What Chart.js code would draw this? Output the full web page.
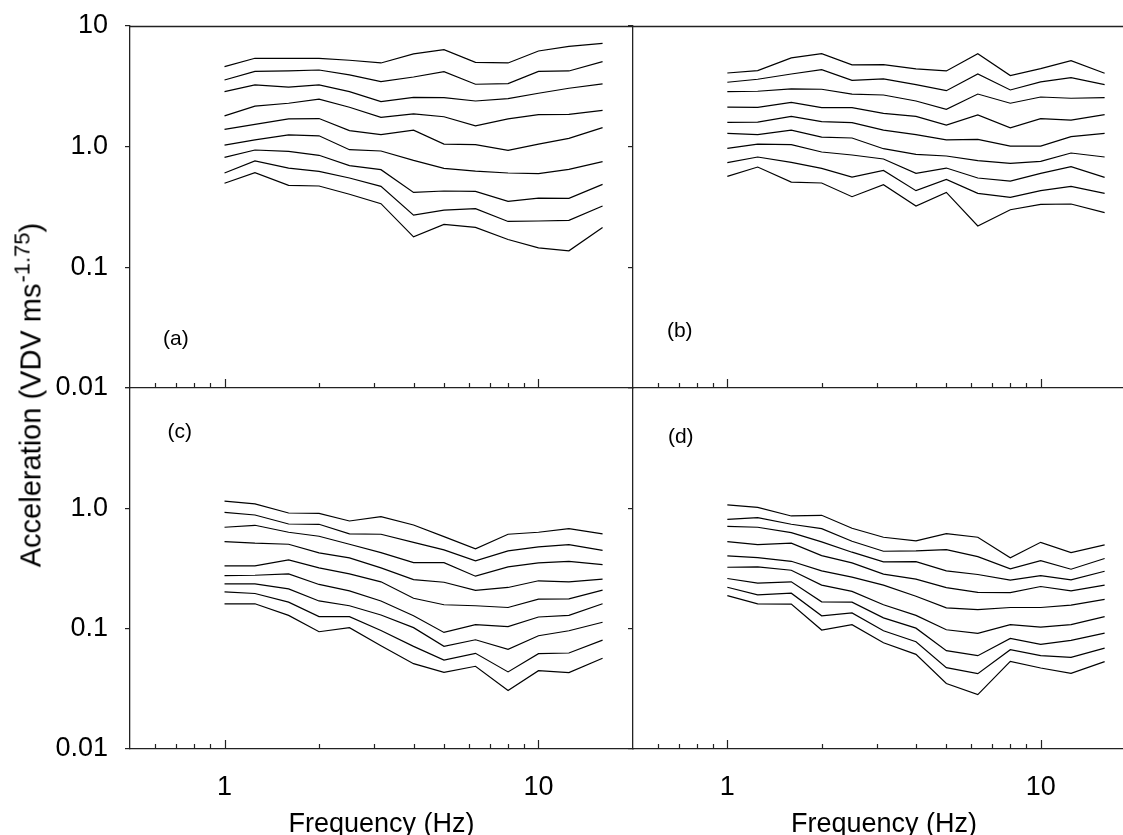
<!DOCTYPE html>
<html>
<head>
<meta charset="utf-8">
<title>VDV acceleration contours</title>
<script src="https://cdn.jsdelivr.net/npm/chart.js@4.4.1/dist/chart.umd.min.js"></script>
<style>
  html, body { margin: 0; padding: 0; background: #fff; }
  #stage { position: relative; width: 1123px; height: 835px; overflow: hidden; background: #fff; }
  #stage canvas { position: absolute; left: 0; top: 0; }
  #yTitle {
    position: absolute; left: 31px; top: 395px;
    transform: translate(-50%, -50%) rotate(-90deg);
    white-space: nowrap; line-height: 1; color: #000;
    font-family: "Liberation Sans", Arial, sans-serif; font-size: 29px;
  }
  #yTitle sup { font-size: 22px; vertical-align: 11px; line-height: 0; margin-left: 1px; }
</style>
</head>
<body>
<div id="stage">
  <canvas id="panelA" width="1140" height="860"></canvas>
  <canvas id="panelB" width="1140" height="860"></canvas>
  <canvas id="panelC" width="1140" height="860"></canvas>
  <canvas id="panelD" width="1140" height="860"></canvas>
  <div id="yTitle">Acceleration (VDV ms<sup>-1.75</sup>)</div>
</div>

<script>
// one-third octave band centres (Hz)
const freqHz = [1, 1.25, 1.6, 2, 2.5, 3.15, 4, 5, 6.3, 8, 10, 12.5, 16];

// tick values
const yTickVals = [0.01, 0.1, 1, 10];
const yTickText = ["0.01", "0.1", "1.0", "10"];
const xLabelVals = [1, 10];
const xMinorVals = [0.6, 0.7, 0.8, 0.9, 2, 3, 4, 5, 6, 7, 8, 9];
const xMajorVals = [1, 10];

// panel (a) - nine contours, top to bottom
const panelA = [
  [4.61, 5.40, 5.40, 5.40, 5.20, 4.94, 5.87, 6.37, 5.00, 4.94, 6.21, 6.79, 7.19],
  [3.57, 4.21, 4.24, 4.32, 3.93, 3.46, 3.78, 4.19, 3.29, 3.33, 4.21, 4.24, 5.07],
  [2.86, 3.25, 3.12, 3.25, 2.86, 2.36, 2.56, 2.55, 2.39, 2.50, 2.77, 3.05, 3.31],
  [1.80, 2.17, 2.29, 2.48, 2.12, 1.75, 1.87, 1.77, 1.49, 1.70, 1.84, 1.85, 2.00],
  [1.39, 1.53, 1.70, 1.71, 1.36, 1.26, 1.37, 1.05, 1.04, 0.932, 1.05, 1.17, 1.44],
  [1.03, 1.14, 1.25, 1.23, 0.944, 0.921, 0.770, 0.661, 0.628, 0.605, 0.597, 0.649, 0.751],
  [0.816, 0.938, 0.915, 0.848, 0.696, 0.645, 0.418, 0.429, 0.426, 0.352, 0.375, 0.373, 0.487],
  [0.605, 0.761, 0.665, 0.625, 0.550, 0.469, 0.271, 0.298, 0.306, 0.240, 0.242, 0.245, 0.322],
  [0.497, 0.609, 0.478, 0.472, 0.403, 0.337, 0.179, 0.227, 0.214, 0.170, 0.145, 0.137, 0.214]
];

// panel (b)
const panelB = [
  [4.08, 4.27, 5.44, 5.90, 4.76, 4.79, 4.41, 4.24, 5.90, 3.88, 4.43, 5.17, 4.06],
  [3.42, 3.62, 4.00, 4.35, 3.55, 3.64, 3.27, 2.91, 4.00, 2.95, 3.44, 3.73, 3.27],
  [2.86, 2.88, 3.01, 2.99, 2.73, 2.68, 2.39, 2.04, 2.73, 2.29, 2.58, 2.52, 2.55],
  [2.13, 2.12, 2.33, 2.11, 2.11, 1.89, 1.78, 1.51, 1.83, 1.43, 1.71, 1.66, 1.84],
  [1.59, 1.60, 1.78, 1.61, 1.58, 1.37, 1.26, 1.14, 1.15, 1.01, 1.01, 1.21, 1.29],
  [1.29, 1.26, 1.37, 1.20, 1.18, 0.962, 0.864, 0.837, 0.765, 0.727, 0.756, 0.886, 0.821],
  [0.969, 1.05, 1.04, 0.903, 0.853, 0.790, 0.601, 0.665, 0.550, 0.519, 0.601, 0.683, 0.557],
  [0.737, 0.821, 0.741, 0.661, 0.560, 0.636, 0.432, 0.536, 0.410, 0.380, 0.432, 0.469, 0.410],
  [0.568, 0.678, 0.509, 0.500, 0.385, 0.484, 0.322, 0.418, 0.220, 0.300, 0.332, 0.335, 0.284]
];

// panel (c)
const panelC = [
  [1.15, 1.09, 0.915, 0.909, 0.785, 0.853, 0.727, 0.582, 0.460, 0.609, 0.633, 0.678, 0.613],
  [0.927, 0.880, 0.741, 0.737, 0.613, 0.609, 0.522, 0.451, 0.366, 0.443, 0.478, 0.500, 0.448],
  [0.696, 0.723, 0.633, 0.586, 0.503, 0.429, 0.354, 0.354, 0.273, 0.326, 0.352, 0.363, 0.341],
  [0.529, 0.513, 0.503, 0.426, 0.388, 0.320, 0.256, 0.243, 0.208, 0.220, 0.250, 0.245, 0.258],
  [0.332, 0.332, 0.373, 0.320, 0.285, 0.245, 0.179, 0.158, 0.155, 0.150, 0.176, 0.177, 0.209],
  [0.276, 0.278, 0.285, 0.233, 0.206, 0.170, 0.128, 0.0931, 0.108, 0.104, 0.125, 0.129, 0.161],
  [0.236, 0.236, 0.214, 0.170, 0.155, 0.130, 0.102, 0.0713, 0.0809, 0.0673, 0.0874, 0.0961, 0.113],
  [0.202, 0.196, 0.166, 0.126, 0.126, 0.0967, 0.0713, 0.0549, 0.0624, 0.0437, 0.0620, 0.0628, 0.0804],
  [0.161, 0.161, 0.129, 0.0943, 0.102, 0.0722, 0.0512, 0.0434, 0.0487, 0.0306, 0.0448, 0.0431, 0.0567]
];

// panel (d)
const panelD = [
  [1.07, 1.02, 0.864, 0.875, 0.683, 0.575, 0.536, 0.617, 0.575, 0.388, 0.522, 0.429, 0.497],
  [0.811, 0.837, 0.737, 0.678, 0.533, 0.440, 0.443, 0.454, 0.397, 0.314, 0.368, 0.312, 0.383],
  [0.709, 0.696, 0.628, 0.526, 0.432, 0.359, 0.361, 0.302, 0.282, 0.253, 0.276, 0.254, 0.300],
  [0.529, 0.500, 0.513, 0.405, 0.352, 0.284, 0.258, 0.219, 0.200, 0.199, 0.224, 0.206, 0.230],
  [0.403, 0.390, 0.363, 0.302, 0.268, 0.230, 0.186, 0.149, 0.144, 0.150, 0.150, 0.157, 0.175],
  [0.324, 0.326, 0.306, 0.230, 0.204, 0.158, 0.129, 0.0980, 0.0913, 0.108, 0.103, 0.108, 0.126],
  [0.261, 0.239, 0.245, 0.167, 0.166, 0.123, 0.101, 0.0656, 0.0596, 0.0830, 0.0741, 0.0799, 0.0919],
  [0.221, 0.191, 0.197, 0.128, 0.135, 0.0961, 0.0779, 0.0474, 0.0423, 0.0669, 0.0596, 0.0578, 0.0690],
  [0.188, 0.161, 0.160, 0.0974, 0.108, 0.0764, 0.0612, 0.0350, 0.0283, 0.0535, 0.0471, 0.0426, 0.0532]
];

const AXIS_COLOR = "#222";
const FONT = "'Liberation Sans', Arial, sans-serif";

Chart.defaults.font.family = FONT;
Chart.defaults.color = "#000";

// Draws the inward x ticks, the top frame edge and the panel letter
const panelDecor = {
  id: "panelDecor",
  afterDraw(chart, args, opts) {
    const { ctx, chartArea, scales } = chart;
    const x = scales.x;
    const y = scales.y;
    ctx.save();
    ctx.strokeStyle = AXIS_COLOR;
    ctx.lineWidth = 1.2;
    ctx.beginPath();
    const base = chartArea.bottom;
    xMinorVals.forEach((v) => {
      const px = Math.round(x.getPixelForValue(v)) + 0.5;
      ctx.moveTo(px, base);
      ctx.lineTo(px, base - 5);
    });
    xMajorVals.forEach((v) => {
      const px = Math.round(x.getPixelForValue(v)) + 0.5;
      ctx.moveTo(px, base);
      ctx.lineTo(px, base - 9);
    });
    ctx.stroke();

    if (opts.topEdge) {
      ctx.lineWidth = 1.3;
      ctx.beginPath();
      const ty = Math.round(chartArea.top) + 0.5;
      ctx.moveTo(chartArea.left, ty);
      ctx.lineTo(chartArea.right, ty);
      ctx.stroke();
    }

    if (opts.tag) {
      ctx.fillStyle = "#000";
      ctx.font = "21px " + FONT;
      ctx.textAlign = "center";
      ctx.textBaseline = "middle";
      ctx.fillText(opts.tag, x.getPixelForValue(opts.tagAt[0]), y.getPixelForValue(opts.tagAt[1]));
    }
    ctx.restore();
  },
};
Chart.register(panelDecor);

// keep the layout from reserving room for overhanging tick labels
function noOverhang(s) {
  s.paddingTop = 0;
  s.paddingBottom = 0;
  s.paddingLeft = 0;
  s.paddingRight = 0;
}

function buildPanel(canvasId, rows, cfg) {
  const datasets = rows.map((row) => ({
    data: row.map((v, i) => ({ x: freqHz[i], y: v })),
    borderColor: "#000",
    borderWidth: 1.2,
    pointRadius: 0,
    tension: 0,
    fill: false,
  }));

  return new Chart(document.getElementById(canvasId), {
    type: "line",
    data: { datasets: datasets },
    options: {
      responsive: false,
      animation: false,
      events: [],
      layout: { padding: cfg.pad },
      plugins: {
        legend: { display: false },
        tooltip: { enabled: false },
        panelDecor: { tag: cfg.tag, tagAt: cfg.tagAt, topEdge: cfg.top },
      },
      scales: {
        x: {
          type: "logarithmic",
          min: 0.5,
          max: 20,
          grid: { display: false, drawTicks: false },
          border: { display: true, color: AXIS_COLOR, width: 1.3 },
          title: {
            display: cfg.xLabels,
            text: "Frequency (Hz)",
            font: { size: 27 },
            color: "#000",
            padding: { top: 0, bottom: 19 },
          },
          ticks: {
            display: cfg.xLabels,
            autoSkip: false,
            maxRotation: 0,
            padding: 22,
            font: { size: 27 },
            callback: (value) => String(value),
          },
          afterBuildTicks: (s) => {
            s.ticks = xLabelVals.map((v) => ({ value: v }));
          },
          afterFit: (s) => {
            s.height = cfg.xHeight;
            noOverhang(s);
          },
        },
        y: {
          type: "logarithmic",
          min: 0.01,
          max: 10,
          grid: {
            display: true,
            drawOnChartArea: false,
            drawTicks: true,
            tickLength: 5,
            color: AXIS_COLOR,
            lineWidth: 1.2,
          },
          border: { display: true, color: AXIS_COLOR, width: 1.3 },
          ticks: {
            display: cfg.yLabels,
            padding: 17,
            font: { size: 27 },
            callback: (value) => {
              const idx = yTickVals.indexOf(value);
              if (idx < 0) return "";
              if (cfg.hideTopLabel && value === 10) return "";
              return yTickText[idx];
            },
          },
          afterBuildTicks: (s) => {
            s.ticks = yTickVals.map((v) => ({ value: v }));
          },
          afterFit: (s) => {
            s.width = cfg.yWidth;
            noOverhang(s);
          },
        },
      },
    },
  });
}

buildPanel("panelA", panelA, {
  pad: { left: 0, top: 26, right: 507, bottom: 472 },
  yWidth: 130, xHeight: 0, yLabels: true, xLabels: false, top: true,
  tag: "(a)", tagAt: [0.70, 0.0255],
});
buildPanel("panelB", panelB, {
  pad: { left: 628, top: 26, right: 5, bottom: 472 },
  yWidth: 5, xHeight: 0, yLabels: false, xLabels: false, top: true,
  tag: "(b)", tagAt: [0.705, 0.0297],
});
buildPanel("panelC", panelC, {
  pad: { left: 0, top: 388, right: 507, bottom: 0 },
  yWidth: 130, xHeight: 111, yLabels: true, xLabels: true, top: false, hideTopLabel: true,
  tag: "(c)", tagAt: [0.72, 4.26],
});
buildPanel("panelD", panelD, {
  pad: { left: 628, top: 388, right: 5, bottom: 0 },
  yWidth: 5, xHeight: 111, yLabels: false, xLabels: true, top: false,
  tag: "(d)", tagAt: [0.71, 3.87],
});
</script>
</body>
</html>
